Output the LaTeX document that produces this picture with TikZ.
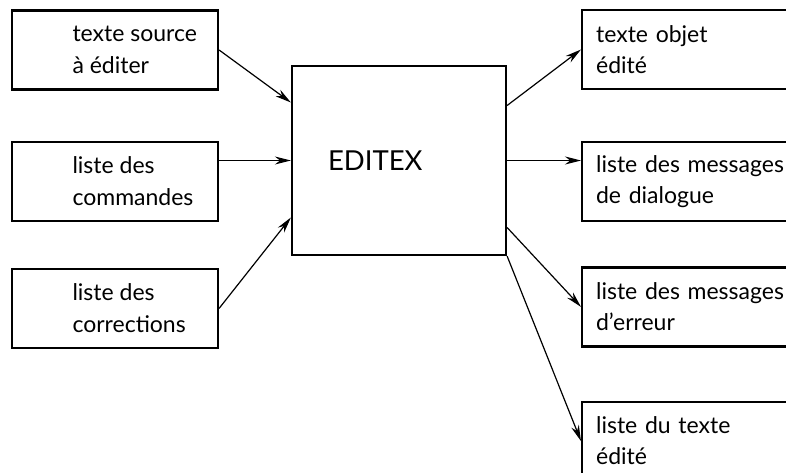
\documentclass[tikz,border=0pt]{standalone}
\usepackage{fontspec}
\setmainfont{Lato}
\usetikzlibrary{arrows.meta,positioning}

\begin{document}
\begin{tikzpicture}[->,>={Stealth[length=16pt,width=8pt]},x=1pt,y=-1pt,
  line width=1.2pt,node distance=50pt,
  io box/.style={rectangle,draw,line width=2.2pt,minimum width=206pt,minimum height=79pt,inner sep=0pt},
  box text/.style={anchor=west,align=left,inner sep=0pt,font=\fontsize{23}{32}\selectfont},
  out box/.style={io box,anchor=west,text width=215pt,inner xsep=14pt,align=left,font=\fontsize{23}{31}\selectfont}]
  \clip (0,0) rectangle (786,472);
  % entrees
  \node[io box] (src) at (115,50) {};
  \node[io box] (cmd) [below=50pt of src] {};
  \node[io box] (corr) [below=46pt of cmd] {};
  \node[box text] at ([xshift=61pt]src.west) {texte source\\à éditer};
  \node[box text] at ([xshift=61pt]cmd.west) {liste des\\commandes};
  \node[box text] at ([xshift=61pt]corr.west) {liste des\\corrections};
  % editeur
  \node[rectangle,draw,line width=2.2pt,minimum width=214pt,minimum height=189pt,
    text width=142pt,align=left,font=\fontsize{27.5}{30}\selectfont] (editex) at (399,160.5) {EDITEX};
  % sorties
  \node[out box] (objet) at (581,49.5) {texte objet\\édité};
  \node[out box] (dialog) [below=51pt of objet] {liste des messages\\de dialogue};
  \node[out box] (erreur) [below=44pt of dialog] {liste des messages\\d’erreur};
  \node[out box] (liste) [below=53pt of erreur] {liste du texte\\édité};
  \path
    (src.east) edge ([yshift=58pt]editex.west)
    (cmd.east |- editex.west) edge (editex.west)
    (corr.east) edge ([yshift=-57pt]editex.west)
    ([yshift=55pt]editex.east) edge (objet.west)
    (editex.east) edge (editex.east -| dialog.west)
    ([yshift=-67pt]editex.east) edge (erreur.west)
    (editex.south east) edge (liste.west);
\end{tikzpicture}
\end{document}
